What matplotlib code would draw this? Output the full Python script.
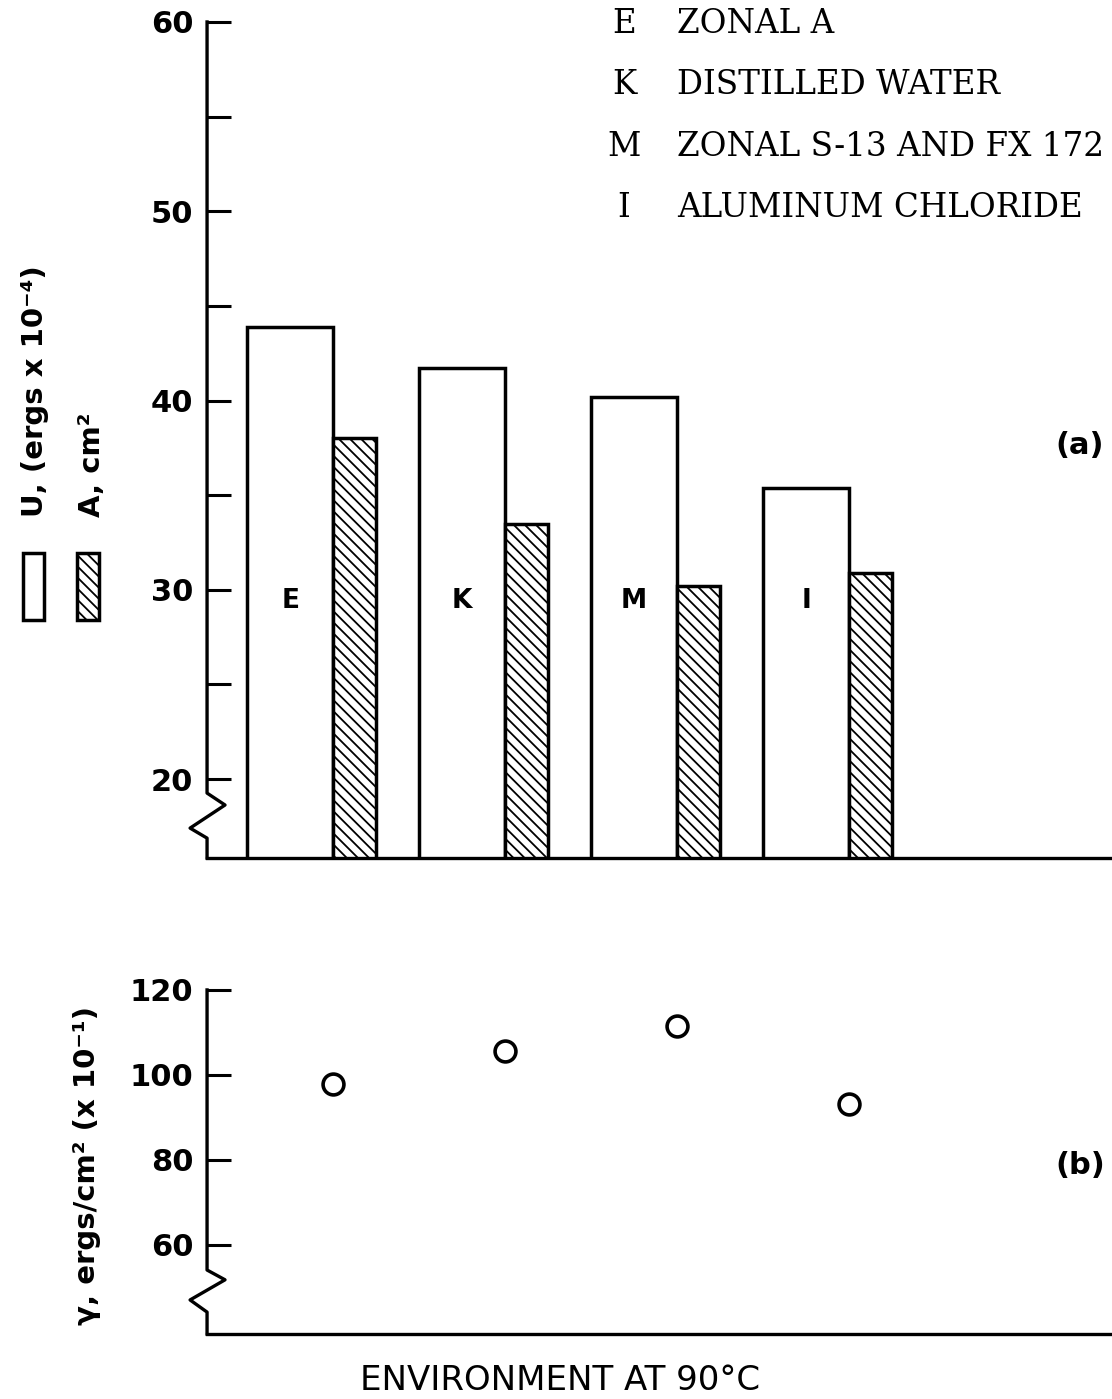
import numpy as np
import matplotlib.pyplot as plt
from matplotlib.patches import Rectangle
import matplotlib.transforms as mtransforms

# data
codes = ['E', 'K', 'M', 'I']
names = ['ZONAL A', 'DISTILLED WATER', 'ZONAL S-13 AND FX 172', 'ALUMINUM CHLORIDE']
U = [43.9, 41.7, 40.2, 35.4]      # ergs x 10^-4
A = [38.0, 33.5, 30.2, 30.9]      # cm^2
gamma = [97.9, 105.6, 111.5, 93.2]  # ergs/cm^2 (x 10^-1)

plt.rcParams['hatch.linewidth'] = 1.3
sans = {'family': 'DejaVu Sans', 'weight': 'bold'}
lw = 2.5

fig = plt.figure(figsize=(11.12, 13.99), dpi=100)
ax1 = fig.add_axes([0.1862, 0.3867, 0.812, 0.5976])
ax2 = fig.add_axes([0.1862, 0.0465, 0.812, 0.2459])

x = np.arange(len(codes))

## (a) bars
ax1.bar(x, U, width=0.5, align='edge', bottom=0, facecolor='white',
        edgecolor='black', linewidth=lw, zorder=2)
ax1.bar(x + 0.5, A, width=0.25, align='edge', facecolor='white',
        edgecolor='black', linewidth=lw, hatch='\\\\\\', zorder=2)
for xi, c in zip(x, codes):
    ax1.text(xi + 0.25, 29.4, c, ha='center', va='center', fontsize=19, **sans)

ax1.set_ylim(15.83, 60)
ax1.set_yticks([20, 30, 40, 50, 60])
ax1.set_yticks([25, 35, 45, 55], minor=True)

## (b) points
ax2.plot(x + 0.5, gamma, 'o', markersize=15, markerfacecolor='white',
         markeredgecolor='black', markeredgewidth=2.6, linestyle='none')
ax2.set_ylim(39.06, 120)
ax2.set_yticks([60, 80, 100, 120])

for ax in (ax1, ax2):
    ax.set_xlim(-0.233, 5.017)
    for s in ['top', 'right', 'left']:
        ax.spines[s].set_visible(False)
    ax.spines['bottom'].set_linewidth(2.4)
    ax.tick_params(axis='x', bottom=False, labelbottom=False)
    ax.tick_params(axis='y', which='both', direction='in', length=17,
                   width=2.2, pad=10, labelsize=22)
    for lab in ax.get_yticklabels():
        lab.set_fontweight('bold')

# left axis lines with a break mark
trans1 = mtransforms.blended_transform_factory(ax1.transAxes, ax1.transData)
ax1.plot([0, 0, 0.0199, -0.0188, 0, 0], [60, 19.26, 18.63, 17.41, 16.88, 15.83],
         color='black', lw=2.4, transform=trans1, clip_on=False, zorder=3)
trans2 = mtransforms.blended_transform_factory(ax2.transAxes, ax2.transData)
ax2.plot([0, 0, 0.0199, -0.0188, 0, 0], [120, 54.1, 51.8, 47.06, 44.2, 39.06],
         color='black', lw=2.4, transform=trans2, clip_on=False, zorder=3)

W, H = 1112.0, 1399.0

# key at top right
for i, (c, n) in enumerate(zip(codes, names)):
    yy = 1 - (24 + i * 61.3) / H
    fig.text(624 / W, yy, c, ha='center', va='center', fontsize=23.5,
             family='DejaVu Serif')
    fig.text(677 / W, yy, n, ha='left', va='center', fontsize=23.5,
             family='DejaVu Serif')

fig.text(1080 / W, 1 - 446 / H, '(a)', ha='center', va='center', fontsize=22, **sans)
fig.text(1080 / W, 1 - 1166 / H, '(b)', ha='center', va='center', fontsize=22, **sans)

# y labels
fig.text(43 / W, 1 - 517 / H, 'U, (ergs x 10\u207b\u2074)', rotation=90,
         rotation_mode='anchor', ha='left', va='baseline', fontsize=21, **sans)
fig.text(100 / W, 1 - 517 / H, 'A, cm\u00b2', rotation=90,
         rotation_mode='anchor', ha='left', va='baseline', fontsize=21, **sans)
fig.add_artist(Rectangle((23 / W, 1 - 620 / H), 21 / W, 67 / H,
                         transform=fig.transFigure, facecolor='white',
                         edgecolor='black', lw=lw))
fig.add_artist(Rectangle((77 / W, 1 - 620 / H), 22 / W, 67 / H,
                         transform=fig.transFigure, facecolor='white',
                         edgecolor='black', lw=lw, hatch='\\\\\\'))

fig.text(95 / W, 1 - 1325 / H, '\u03b3, ergs/cm\u00b2 (x 10\u207b\u00b9)', rotation=90,
         rotation_mode='anchor', ha='left', va='baseline', fontsize=21, **sans)

fig.text(560 / W, 1 - 1381 / H, 'ENVIRONMENT AT 90\u00b0C', ha='center',
         va='center', fontsize=24.5, family='DejaVu Sans')

fig.savefig('out.png', dpi=100)
